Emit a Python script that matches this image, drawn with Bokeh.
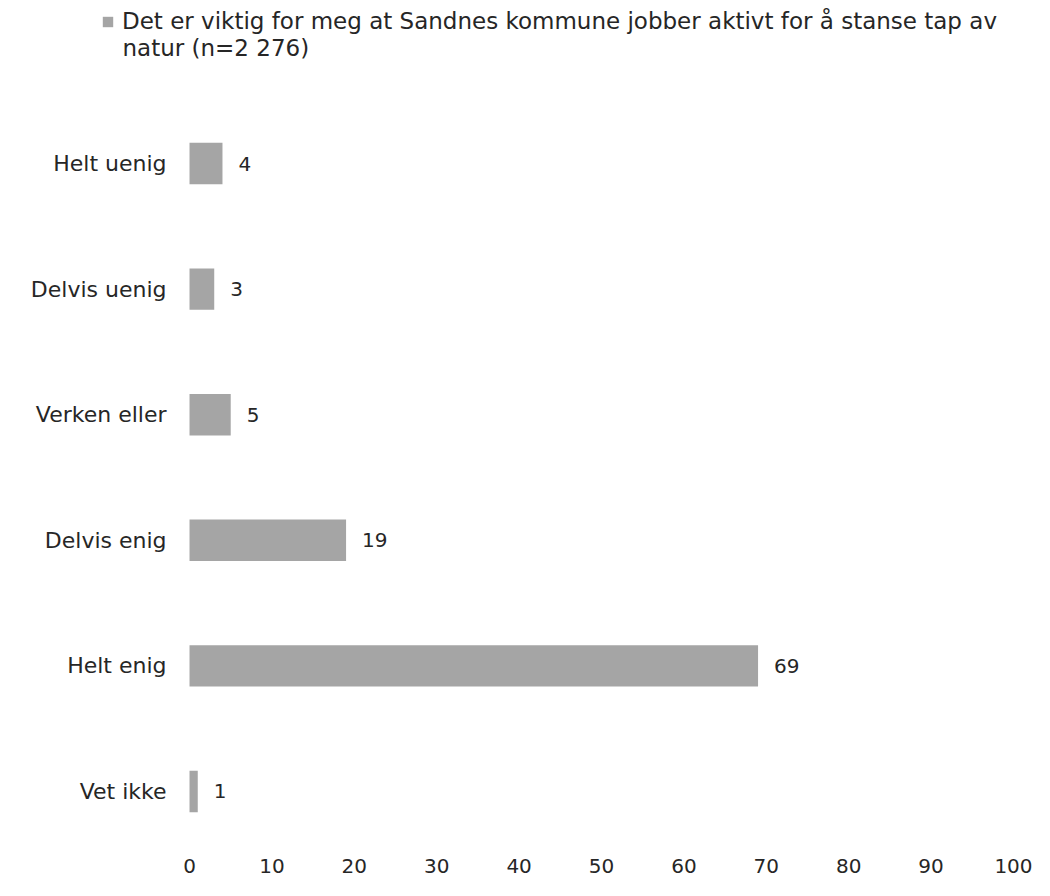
from bokeh.plotting import figure
from bokeh.models import ColumnDataSource, Range1d, FixedTicker, Legend, LegendItem, Label
from bokeh.core.properties import value
from bokeh.embed import file_html
from bokeh.resources import INLINE

# ---- data ----
categories = ["Helt uenig", "Delvis uenig", "Verken eller", "Delvis enig", "Helt enig", "Vet ikke"]
values = [4, 3, 5, 19, 69, 1]
x_ticks = [0, 10, 20, 30, 40, 50, 60, 70, 80, 90, 100]
series_name_lines = ["Det er viktig for meg at Sandnes kommune jobber aktivt for å stanse tap av",
                     "natur (n=2 276)"]

# ---- style ----
FONT = "DejaVu Sans"
TEXT = "#262626"
BAR = "#A5A5A5"

positions = list(range(len(categories)))
src = ColumnDataSource(dict(y=positions, v=values, label=[str(v) for v in values],
                            cat=categories, zero=[0] * len(values)))

# frame spans whole figure width so the legend and category labels are not clipped
p = figure(width=1034, height=880, output_backend="svg", toolbar_location=None,
           x_range=Range1d(-22.94, 102.55), y_range=Range1d(5.470, -1.298),
           min_border_left=0, min_border_right=0, min_border_top=0, min_border_bottom=30)

bars = p.hbar(y="y", right="v", left=0, height=0.33, fill_color=BAR, line_color=None, source=src)
p.text(x="v", y="y", text="label", x_offset=16, text_align="left", text_baseline="middle",
       text_font=value(FONT), text_font_size="20px", text_color=TEXT, source=src)
p.text(x="zero", y="y", text="cat", x_offset=-23, text_align="right", text_baseline="middle",
       text_font=value(FONT), text_font_size="22px", text_color=TEXT, source=src)

p.yaxis.visible = False
ax = p.xaxis
ax.axis_line_color = None
ax.major_tick_line_color = None
ax.minor_tick_line_color = None
ax.major_label_text_font = FONT
ax.major_label_text_font_size = "20px"
ax.major_label_text_color = TEXT
ax.ticker = FixedTicker(ticks=x_ticks)
ax.major_label_standoff = 2

p.xgrid.visible = False
p.ygrid.visible = False
p.outline_line_color = None

legend = Legend(items=[LegendItem(label=series_name_lines[0], renderers=[bars])],
                location=(101, 816), glyph_width=13, glyph_height=13, label_standoff=8,
                padding=0, margin=0, spacing=0, border_line_color=None, background_fill_alpha=0,
                label_text_font=FONT, label_text_font_size="23px", label_text_color=TEXT,
                label_text_line_height=1.2)
p.add_layout(legend)

# second line of the wrapped legend label
p.add_layout(Label(text=series_name_lines[1], x=122, y=803, x_units="screen", y_units="screen",
                   text_font=FONT, text_font_size="23px", text_color=TEXT,
                   text_align="left", text_baseline="middle"))

open("out.html", "w").write(file_html(p, INLINE))
